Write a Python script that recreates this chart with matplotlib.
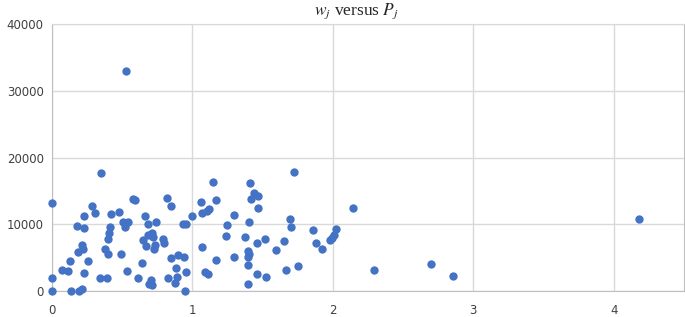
import numpy as np
import matplotlib
matplotlib.use("Agg")
from matplotlib import pyplot as plt

# P_j values (x) and w_j values (y)
P = [0.00, 0.00, 0.00, 0.069, 0.116, 0.128, 0.135, 0.195, 0.216,
     0.18, 0.228, 0.23, 0.283, 0.306, 0.216, 0.223, 0.187, 0.228, 0.259,
     0.347, 0.342, 0.392, 0.376, 0.395, 0.40, 0.405, 0.41, 0.42, 0.477,
     0.492, 0.503, 0.52,
     0.544, 0.532, 0.53, 0.579, 0.59, 0.613, 0.638, 0.65, 0.663, 0.668,
     0.68, 0.738, 0.709, 0.685, 0.72, 0.735, 0.728, 0.792, 0.798,
     0.706, 0.69, 0.71, 0.821, 0.845, 0.845, 0.90, 0.943, 0.881, 0.955,
     0.829, 0.893, 0.877, 0.95, 0.93, 0.955,
     1.0, 1.06, 1.067, 1.10, 1.12, 1.148, 1.166, 1.07, 1.09, 1.113, 1.166,
     1.245, 1.238, 1.298, 1.298, 1.375, 1.392, 1.399, 1.392, 1.392, 1.392,
     1.41, 1.435, 1.47, 1.418, 1.466, 1.406, 1.459, 1.513, 1.458, 1.525,
     1.598, 1.655, 1.663, 1.696, 1.70, 1.72, 1.752,
     1.86, 1.883, 1.921, 1.979, 1.995, 2.005, 2.024,
     2.143, 2.293, 2.697, 2.856, 4.177]
w = [13230, 1900, 0, 3150, 3000, 4490, 0, 0, 300,
     9740, 9390, 11280, 12730, 11730, 6890, 6240, 5890, 2650, 4490,
     17730, 1900, 2000, 6340, 5490, 7790, 8740, 9540, 11540, 11790,
     5490, 10390, 9640,
     10390, 3000, 33000, 13740, 13680, 2000, 4240, 7640, 11240, 6740,
     10040, 10340, 8640, 8390, 8140, 6890, 6240, 7740, 7140,
     1650, 1000, 900, 13890, 12780, 4890, 5390, 5050, 3400, 2900,
     1900, 2050, 1240, 0, 10040, 10040,
     11240, 13290, 11640, 12030, 12280, 16290, 13680, 6640, 2850, 2500, 4640,
     9890, 8290, 11390, 5140, 8040, 5990, 5540, 5140, 3890, 1050,
     16140, 14640, 14230, 13740, 12480, 10390, 7240, 7790, 2500, 2140,
     6140, 7440, 3150, 10740, 9590, 17830, 3750,
     9090, 7240, 6240, 7640, 7990, 8390, 9290,
     12390, 3190, 4040, 2300, 10740]

xticks = [0, 1, 2, 3, 4]
yticks = [0, 10000, 20000, 30000, 40000]

fig = plt.figure(figsize=(6.85, 3.17), dpi=100)
ax = fig.add_axes([0.076, 0.082, 0.9225, 0.842])

ax.scatter(P, w, s=36, color="#4472C4", zorder=3, clip_on=False, linewidths=0)

ax.set_xlim(0, 4.5)
ax.set_ylim(0, 40000)
ax.set_xticks(xticks)
ax.set_yticks(yticks)
ax.set_xticklabels([str(t) for t in xticks])
ax.set_yticklabels([str(t) for t in yticks])
ax.grid(True, color="#d9d9d9", linewidth=1)
ax.set_axisbelow(True)
for s in ["left", "bottom", "right"]:
    ax.spines[s].set_color("#bfbfbf")
ax.spines["top"].set_color("#d9d9d9")
ax.tick_params(length=0, labelsize=8.5, labelcolor="#404040", pad=6)
ax.tick_params(axis="x", pad=9)

# title sits a little left of the plot centre in the original
fig.text(0.521, 0.965, r"$w_j$ versus $P_j$", fontsize=12.5, ha="center", va="center",
         family="Liberation Serif", math_fontfamily="stix", color="#262626")

fig.savefig("out.png", dpi=100)
